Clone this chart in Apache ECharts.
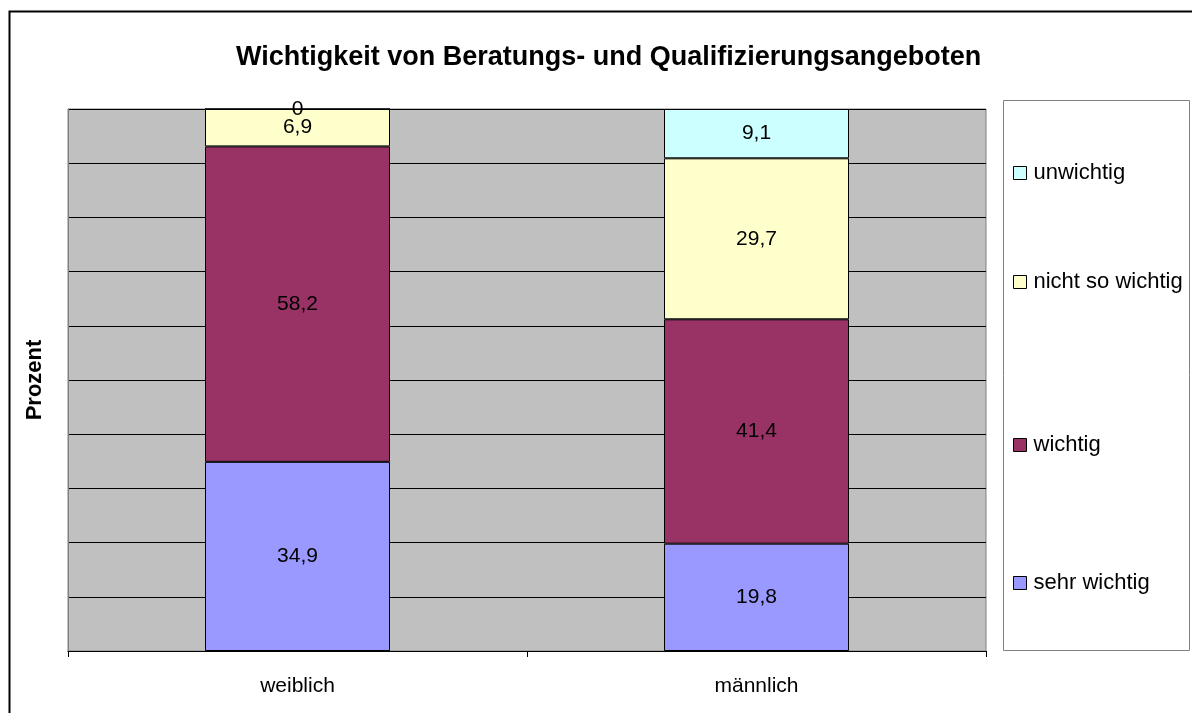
<!DOCTYPE html>
<html>
<head>
    <meta charset="utf-8">
    <title>Wichtigkeit von Beratungs- und Qualifizierungsangeboten</title>
    <script src="https://cdn.jsdelivr.net/npm/echarts@6.0.0/dist/echarts.min.js"></script>
    <style>
        html, body { margin: 0; padding: 0; background: #fff; }
        #main { width: 1192px; height: 713px; }
    </style>
</head>
<body>
    <div id="main"></div>
    <script type="text/javascript">
        // Daten
        var categories = ['weiblich', 'männlich'];
        var sehrWichtig = [34.9, 19.8];
        var wichtig = [58.2, 41.4];
        var nichtSoWichtig = [6.9, 29.7];
        var unwichtig = [0, 9.1];
        var seriesNames = ['sehr wichtig', 'wichtig', 'nicht so wichtig', 'unwichtig'];
        var seriesColors = ['#9999FF', '#993366', '#FFFFCC', '#CCFFFF'];

        var chart = echarts.init(document.getElementById('main'));
        var fontFamily = '"Liberation Sans", Arial, sans-serif';

        function makeSeries(name, data, color) {
            return {
                name: name,
                type: 'bar',
                stack: 'total',
                barWidth: 185,
                data: data,
                itemStyle: { color: color, borderColor: '#000', borderWidth: 1 },
                label: {
                    show: true,
                    position: 'inside',
                    color: '#000',
                    fontFamily: fontFamily,
                    fontSize: 21,
                    formatter: function (p) { return String(p.value).replace('.', ','); }
                }
            };
        }

        // Legende: Einträge einzeln positioniert wie im Original
        var legendTops = { 'unwichtig': 173, 'nicht so wichtig': 282, 'wichtig': 445, 'sehr wichtig': 583 };
        var legends = seriesNames.map(function (n) {
            return {
                data: [n],
                left: 1013,
                top: legendTops[n] - 11,
                padding: 0,
                itemWidth: 13,
                itemHeight: 13,
                itemGap: 0,
                icon: 'rect',
                selectedMode: false,
                itemStyle: { borderColor: '#000', borderWidth: 1 },
                textStyle: { fontFamily: fontFamily, fontSize: 22, color: '#000', padding: [0, 0, 0, 2] }
            };
        });

        var option = {
            animation: false,
            backgroundColor: '#fff',
            title: {
                text: 'Wichtigkeit von Beratungs- und Qualifizierungsangeboten',
                left: 231,
                top: 39,
                textStyle: { fontFamily: fontFamily, fontSize: 27, fontWeight: 'bold', color: '#000' }
            },
            legend: legends,
            graphic: [
                {
                    type: 'rect',
                    shape: { x: 9.5, y: 11.5, width: 1300, height: 900 },
                    style: { fill: 'none', stroke: '#000', lineWidth: 2 },
                    silent: true
                },
                {
                    type: 'rect',
                    shape: { x: 1003.5, y: 100.5, width: 186, height: 550 },
                    style: { fill: '#fff', stroke: '#808080', lineWidth: 1 },
                    silent: true,
                    z: -1
                }
            ],
            grid: {
                left: 68,
                right: 206,
                top: 109,
                bottom: 62,
                show: true,
                backgroundColor: '#C0C0C0',
                borderColor: '#808080',
                borderWidth: 1
            },
            xAxis: {
                type: 'category',
                data: categories,
                axisLine: { lineStyle: { color: '#000', width: 1 } },
                axisTick: { show: true, length: 6, lineStyle: { color: '#000' } },
                axisLabel: { fontFamily: fontFamily, fontSize: 21, color: '#000', margin: 25 }
            },
            yAxis: {
                type: 'value',
                min: 0,
                max: 100,
                interval: 10,
                name: 'Prozent',
                nameLocation: 'middle',
                nameGap: 22,
                nameTextStyle: { fontFamily: fontFamily, fontSize: 22, fontWeight: 'bold', color: '#000' },
                axisLine: { show: true, lineStyle: { color: '#808080' } },
                axisTick: { show: false },
                axisLabel: { show: false },
                splitLine: { show: true, lineStyle: { color: '#000', width: 1 } }
            },
            series: [
                makeSeries(seriesNames[0], sehrWichtig, seriesColors[0]),
                makeSeries(seriesNames[1], wichtig, seriesColors[1]),
                makeSeries(seriesNames[2], nichtSoWichtig, seriesColors[2]),
                makeSeries(seriesNames[3], unwichtig, seriesColors[3])
            ]
        };
        chart.setOption(option);
    </script>
</body>
</html>
